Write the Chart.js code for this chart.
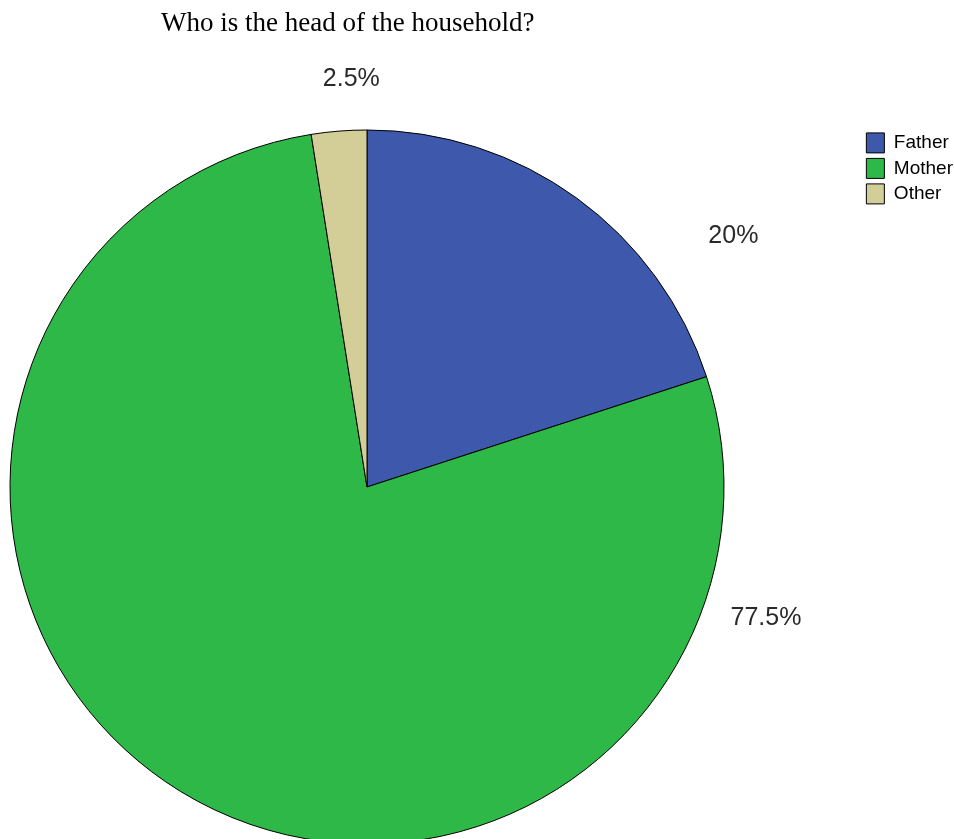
<!DOCTYPE html>
<html>
<head>
<meta charset="utf-8">
<title>Who is the head of the household?</title>
<script src="https://cdn.jsdelivr.net/npm/chart.js@4"></script>
<style>
    html, body { margin: 0; padding: 0; background: #ffffff; overflow: hidden; }
    #chartBox { position: relative; width: 954px; height: 839px; }
</style>
</head>
<body>
<div id="chartBox"><canvas id="headChart"></canvas></div>
<script>
// --------------------------------- Chart Data ---------------------------------
const categories = ["Father", "Mother", "Other"];
const percentValues = [20, 77.5, 2.5];
const sliceColors = ["#3e58ac", "#2eb848", "#d3ce97"];
const chartTitle = "Who is the head of the household?";

// Where SPSS put the percent labels: angle (deg, clockwise from 12 o'clock) and distance from the centre
const labelAngles = [55.6, 108.2, 357.8];
const labelDistances = [444, 420, 408];

// Pie placement on the page
const pieCenter = { x: 367, y: 487 };
const pieRadius = 357;

// Move the chart area so the pie sits where the reference has it (legend + title keep their own boxes)
const placePiePlugin = {
    id: "placePie",
    afterLayout(chart) {
        const area = chart.chartArea;
        area.left = pieCenter.x - pieRadius;
        area.right = pieCenter.x + pieRadius;
        area.top = pieCenter.y - pieRadius;
        area.bottom = pieCenter.y + pieRadius;
        area.width = area.right - area.left;
        area.height = area.bottom - area.top;
    },
};

// Draw the "xx%" labels around the pie
const percentLabelPlugin = {
    id: "percentLabels",
    afterDatasetsDraw(chart) {
        const ctx = chart.ctx;
        const meta = chart.getDatasetMeta(0);
        ctx.save();
        ctx.font = "25px 'Liberation Sans', Arial, sans-serif";
        ctx.fillStyle = "#2a2a2a";
        ctx.textAlign = "center";
        ctx.textBaseline = "middle";
        meta.data.forEach((arc, i) => {
            const rad = (labelAngles[i] * Math.PI) / 180;
            const x = arc.x + labelDistances[i] * Math.sin(rad);
            const y = arc.y - labelDistances[i] * Math.cos(rad);
            ctx.fillText(percentValues[i] + "%", x, y);
        });
        ctx.restore();
    },
};

const headChart = new Chart("headChart", {
    type: "pie",
    data: {
        labels: categories,
        datasets: [
            {
                data: percentValues,
                backgroundColor: sliceColors,
                borderColor: "#000000",
                borderWidth: 1,
                radius: pieRadius,
                clip: false,
            },
        ],
    },
    options: {
        responsive: true,
        maintainAspectRatio: false,
        animation: false,
        events: [],
        layout: {
            padding: { left: 161, right: -9, top: 0, bottom: 0 },
        },
        plugins: {
            title: {
                display: true,
                text: chartTitle,
                align: "start",
                color: "#000000",
                font: { family: "'Liberation Serif', 'Times New Roman', serif", size: 27, weight: "normal" },
                padding: { top: 8, bottom: 87 },
            },
            legend: {
                position: "right",
                align: "start",
                fullSize: false, // keep it below the title
                labels: {
                    color: "#000000",
                    boxWidth: 18,
                    boxHeight: 20,
                    padding: 5.5,
                    font: { family: "'Liberation Sans', Arial, sans-serif", size: 19 },
                },
            },
            tooltip: { enabled: false },
        },
    },
    plugins: [placePiePlugin, percentLabelPlugin],
});
</script>
</body>
</html>
